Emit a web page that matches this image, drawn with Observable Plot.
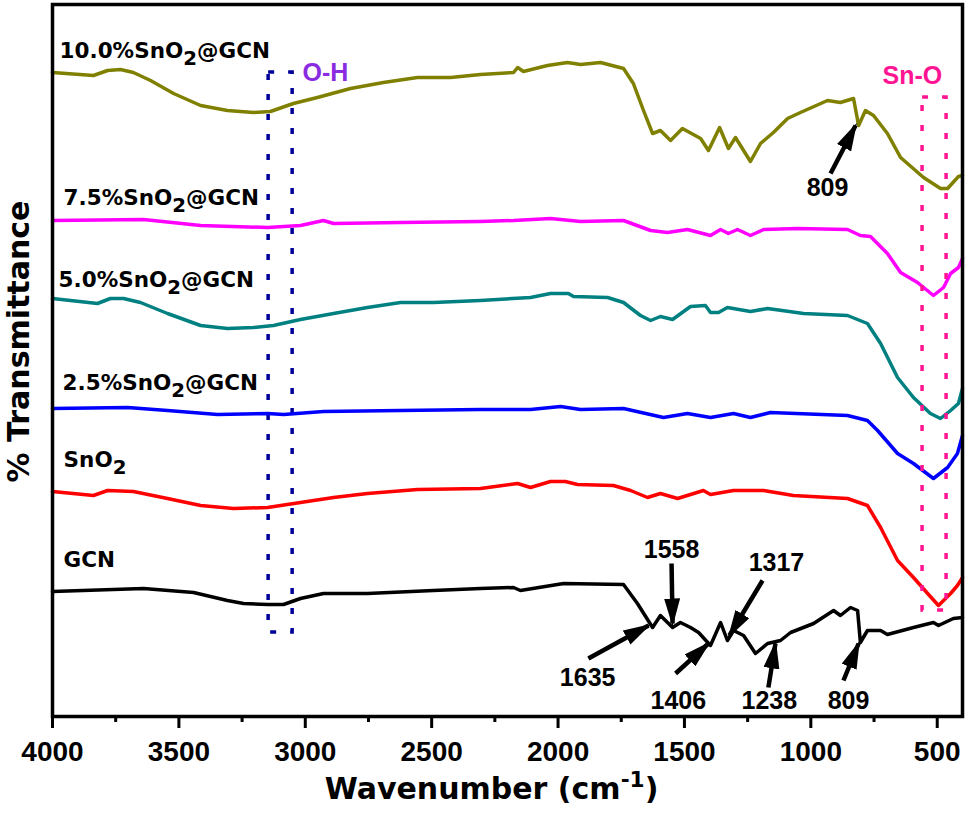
<!DOCTYPE html>
<html>
<head>
<meta charset="utf-8">
<script src="https://cdn.jsdelivr.net/npm/d3@7"></script>
<script src="https://cdn.jsdelivr.net/npm/@observablehq/plot@0.6"></script>
<style>body{margin:0;background:#fff;}</style>
</head>
<body>
<div id="chart"></div>
<script>
// ---- Data: [wavenumber (cm-1), % transmittance (offset, a.u.)] ----
const sno2gcn10 = [[4000,644],[3838,641],[3782,646],[3731,647],[3680,644],[3612,636],[3521,623],[3414,611],[3308,606],[3205,604],[3138,605],[3047,613],[2952,619],[2821,628],[2691,634],[2556,639],[2425,639],[2307,642],[2176,644],[2160,649],[2137,645],[2042,651],[1963,654],[1911,652],[1832,654],[1741,648],[1702,633],[1662,606],[1626,583],[1595,586],[1555,576],[1508,588],[1436,578],[1405,566],[1361,589],[1326,568],[1298,579],[1239,555],[1199,573],[1148,584],[1092,598],[1041,604],[934,616],[883,614],[831,618],[811,591],[784,606],[752,601],[697,583],[645,559],[554,539],[487,528],[459,528],[416,540],[400,541]];
const sno2gcn75 = [[4000,496],[3640,497],[3414,491],[3149,489],[3019,491],[2928,496],[2888,493],[2623,494],[2307,495],[2176,496],[2030,498],[1911,495],[1741,496],[1634,486],[1567,484],[1488,487],[1397,481],[1357,487],[1326,483],[1290,487],[1239,481],[1187,487],[1053,488],[855,487],[804,481],[764,480],[697,463],[645,444],[578,434],[515,421],[475,429],[447,443],[416,449],[400,458]];
const sno2gcn50 = [[4000,418],[3822,413],[3771,418],[3719,418],[3652,414],[3545,403],[3414,391],[3308,388],[3205,389],[3126,391],[3019,397],[2888,403],[2754,409],[2623,414],[2493,414],[2307,416],[2109,419],[2030,423],[1959,423],[1939,420],[1804,419],[1741,414],[1674,401],[1634,396],[1595,400],[1547,397],[1476,410],[1417,411],[1397,404],[1365,404],[1330,409],[1239,405],[1171,408],[1029,403],[855,401],[776,393],[724,373],[657,339],[594,319],[527,303],[487,298],[447,306],[416,313],[400,328]];
const sno2gcn25 = [[4000,308],[3703,309],[3545,306],[3347,302],[3149,303],[3086,302],[2928,305],[2623,306],[2307,307],[2109,307],[1990,310],[1911,307],[1741,308],[1583,299],[1488,303],[1397,299],[1306,303],[1239,299],[1160,304],[855,301],[776,296],[736,286],[657,263],[594,253],[515,238],[459,249],[420,263],[400,281]];
const sno2 = [[4000,225],[3838,221],[3782,226],[3680,225],[3545,218],[3414,211],[3284,208],[3149,209],[3019,214],[2888,219],[2754,223],[2556,227],[2307,228],[2160,233],[2109,229],[2030,235],[1971,235],[1923,232],[1781,231],[1713,226],[1646,219],[1595,223],[1527,218],[1425,226],[1397,222],[1306,226],[1187,226],[1069,221],[855,218],[776,211],[724,189],[657,156],[594,139],[538,123],[495,111],[447,123],[420,131],[400,139]];
const gcn = [[4000,125],[3640,128],[3442,124],[3308,116],[3244,113],[3149,112],[3086,112],[3019,118],[2928,123],[2754,123],[2493,126],[2307,128],[2176,129],[2149,126],[1978,133],[1741,132],[1686,113],[1626,89],[1595,101],[1547,89],[1516,94],[1476,89],[1444,84],[1397,71],[1357,94],[1330,76],[1306,86],[1266,81],[1219,63],[1171,73],[1120,76],[1080,84],[989,93],[910,106],[883,101],[843,109],[815,106],[804,74],[776,86],[724,86],[697,82],[594,89],[515,94],[495,91],[436,98],[400,99]];

const seriesNames = ["10.0%SnO2@GCN","7.5%SnO2@GCN","5.0%SnO2@GCN","2.5%SnO2@GCN","SnO2","GCN"];
const seriesData = [sno2gcn10, sno2gcn75, sno2gcn50, sno2gcn25, sno2, gcn];
const seriesColors = ["#808000","#ff00ff","#008080","#0000ff","#ff0000","#000000"];

// series label anchors (wavenumber, value)
const labelX = [3972, 3956, 3976, 3960, 3956, 3956];
const labelY = [659, 512, 430, 327, 250, 150];

// axis ticks
const majorTicks = [4000, 3500, 3000, 2500, 2000, 1500, 1000, 500];
const minorTicks = [3750, 3250, 2750, 2250, 1750, 1250, 750];

// peak annotations
const peakLabels = ["809","1558","1317","1635","1406","1238","809"];
const peakLabelX = [934, 1551, 1136, 1883, 1524, 1164, 851];
const peakLabelY = [521, 159, 146, 31, 8, 8, 8];
const arrowX1 = [922, 1551, 1191, 1880, 1535, 1168, 871];
const arrowY1 = [543, 153, 136, 58, 43, 29, 36];
const arrowX2 = [823, 1547, 1322, 1642, 1405, 1140, 811];
const arrowY2 = [591, 93, 81, 91, 73, 73, 73];

// band boxes
const bandNames = ["O-H", "Sn-O"];
const bandX1 = [3145, 558];
const bandX2 = [3050, 463];
const bandY1 = [84, 106];
const bandY2 = [644, 619];
const bandColors = ["#000099", "#ff1493"];
const bandLabelColors = ["#8a2be2", "#ff1493"];
const bandLabelX = [3011, 598];
const bandLabelY = [636, 633];

// ---- Build tables ----
const rows = seriesNames.flatMap((name, i) => seriesData[i].map(([w, t]) => ({name, w, t})));
const labels = seriesNames.map((name, i) => ({name, x: labelX[i], y: labelY[i]}));
const peaks = peakLabels.map((text, i) => ({text, x: peakLabelX[i], y: peakLabelY[i]}));
const arrows = peakLabels.map((text, i) => ({x1: arrowX1[i], y1: arrowY1[i], x2: arrowX2[i], y2: arrowY2[i]}));
const bands = bandNames.map((name, i) => ({name, x1: bandX1[i], x2: bandX2[i], y1: bandY1[i], y2: bandY2[i], c: bandColors[i], lc: bandLabelColors[i], lx: bandLabelX[i], ly: bandLabelY[i]}));

const LS = "Liberation Sans, Arial, Helvetica, sans-serif";
const DV = "DejaVu Sans, Verdana, sans-serif";

const svg = Plot.plot({
  width: 969,
  height: 820,
  marginLeft: 52,
  marginRight: 7,
  marginTop: 4,
  marginBottom: 104,
  style: {background: "#fff", color: "#000"},
  x: {domain: [4000, 400], label: null},
  y: {domain: [0, 712], axis: null, label: null},
  color: {domain: seriesNames, range: seriesColors},
  marks: [
    Plot.rect(bands.slice(0, 1), {x1: "x1", x2: "x2", y1: "y1", y2: "y2", fill: "none", stroke: "c", strokeWidth: 3.5, strokeDasharray: "6,14"}),
    Plot.line(rows, {x: "w", y: "t", z: "name", stroke: "name", strokeWidth: 3.5, strokeLinejoin: "round"}),
    Plot.rect(bands.slice(1), {x1: "x1", x2: "x2", y1: "y1", y2: "y2", fill: "none", stroke: "c", strokeWidth: 3.5, strokeDasharray: "6,14"}),
    Plot.text(bands.slice(0, 1), {x: "lx", y: "ly", text: "name", fill: "lc", textAnchor: "start", lineAnchor: "bottom", fontFamily: LS, fontWeight: "bold", fontSize: 25}),
    Plot.text(bands.slice(1), {x: "lx", y: "ly", text: "name", fill: "lc", textAnchor: "middle", lineAnchor: "bottom", fontFamily: LS, fontWeight: "bold", fontSize: 25}),
    Plot.text(labels, {x: "x", y: "y", text: "name", textAnchor: "start", lineAnchor: "bottom", fill: "#000", fontFamily: DV, fontWeight: "bold", fontSize: 21.5}),
    Plot.text(peaks, {x: "x", y: "y", text: "text", textAnchor: "middle", lineAnchor: "bottom", fill: "#000", fontFamily: LS, fontWeight: "bold", fontSize: 25}),
    Plot.link(arrows, {x1: "x1", y1: "y1", x2: "x2", y2: "y2", stroke: "#000", strokeWidth: 4.5}),
    Plot.frame({stroke: "#000", strokeWidth: 3.5}),
    Plot.axisX({ticks: majorTicks, tickSize: 12, tickPadding: 13, strokeWidth: 3, tickFormat: d => String(d), fontSize: 28, fontFamily: LS, fontWeight: "bold", fill: "#000", label: null}),
    Plot.axisX({ticks: minorTicks, tickSize: 6, strokeWidth: 3, tickFormat: () => "", label: null}),
    Plot.text(["Wavenumber (cm-1)"], {text: d => d, frameAnchor: "bottom", textAnchor: "middle", dx: -16, dy: 82, fontFamily: DV, fontWeight: "bold", fontSize: 30, fill: "#000"}),
    Plot.text(["% Transmittance"], {text: d => d, frameAnchor: "left", textAnchor: "middle", rotate: -90, dx: -33, dy: -19, fontFamily: DV, fontWeight: "bold", fontSize: 30, fill: "#000"})
  ]
});

// Rich text: subscripts / superscripts
const NS = "http://www.w3.org/2000/svg";
function span(t, str, attrs) {
  const s = document.createElementNS(NS, "tspan");
  s.textContent = str;
  for (const k in attrs) s.setAttribute(k, attrs[k]);
  t.appendChild(s);
}
svg.querySelectorAll("text").forEach(t => {
  const s = t.textContent;
  if (s.includes("SnO2")) {
    const i = s.indexOf("SnO2");
    const pre = s.slice(0, i + 3), post = s.slice(i + 4);
    t.textContent = "";
    span(t, pre, {});
    span(t, "2", {dy: 7, "font-size": "0.92em"});
    if (post) span(t, post, {dy: -7});
  } else if (s.includes("cm-1")) {
    t.textContent = "";
    span(t, "Wavenumber (cm", {});
    span(t, "-1", {dy: -12, "font-size": "0.72em"});
    span(t, ")", {dy: 12});
  }
});

// Filled arrow heads
const defs = document.createElementNS(NS, "defs");
defs.innerHTML = '<marker id="ahead" viewBox="0 0 28 16" refX="25" refY="8" markerWidth="28" markerHeight="16" markerUnits="userSpaceOnUse" orient="auto"><path d="M0,0L28,8L0,16Z" fill="#000"/></marker>';
svg.insertBefore(defs, svg.firstChild);
svg.querySelectorAll('g[aria-label="link"] path').forEach(p => p.setAttribute("marker-end", "url(#ahead)"));

document.getElementById("chart").append(svg);
</script>
</body>
</html>
